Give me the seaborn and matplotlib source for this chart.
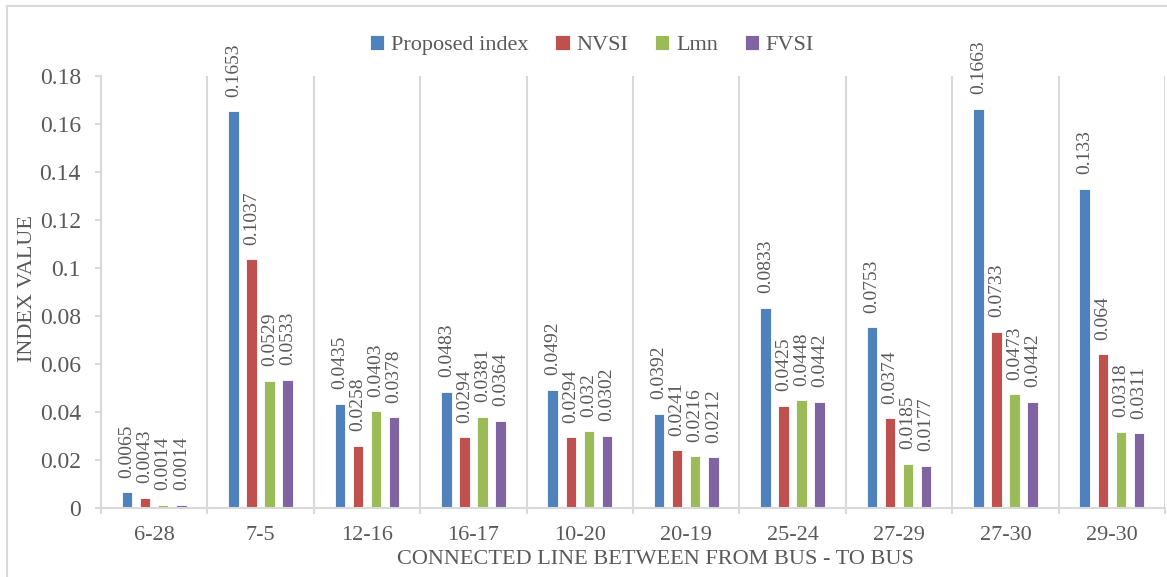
import matplotlib
matplotlib.use("Agg")
import matplotlib.pyplot as plt
from matplotlib.patches import Rectangle
from matplotlib.ticker import FixedLocator, FuncFormatter, MultipleLocator
import numpy as np
import pandas as pd
import seaborn as sns

# Line sections (from bus - to bus) and the four stability indices
lines = ["6-28", "7-5", "12-16", "16-17", "10-20", "20-19", "25-24", "27-29", "27-30", "29-30"]
proposed_index = [0.0065, 0.1653, 0.0435, 0.0483, 0.0492, 0.0392, 0.0833, 0.0753, 0.1663, 0.133]
nvsi = [0.0043, 0.1037, 0.0258, 0.0294, 0.0294, 0.0241, 0.0425, 0.0374, 0.0733, 0.064]
lmn = [0.0014, 0.0529, 0.0403, 0.0381, 0.032, 0.0216, 0.0448, 0.0185, 0.0473, 0.0318]
fvsi = [0.0014, 0.0533, 0.0378, 0.0364, 0.0302, 0.0212, 0.0442, 0.0177, 0.0442, 0.0311]
series_names = ["Proposed index", "NVSI", "Lmn", "FVSI"]
colors = ["#4F81BD", "#C0504D", "#9BBB59", "#8064A2"]

series_values = [proposed_index, nvsi, lmn, fvsi]
df = pd.DataFrame(
    [(ln, name, v) for name, vals in zip(series_names, series_values) for ln, v in zip(lines, vals)],
    columns=["line", "index", "value"],
)

sns.set_theme(style="white")
plt.rcParams["font.family"] = ["Liberation Serif", "DejaVu Serif"]
text_gray = "#595959"
grid_gray = "#D9D9D9"

fig = plt.figure(figsize=(11.67, 5.77), dpi=100)
ax = fig.add_axes([101 / 1167, 69 / 577, 1064 / 1167, 432 / 577])

sns.barplot(
    data=df, x="line", y="value", hue="index",
    order=lines, hue_order=series_names, palette=colors, saturation=1,
    width=0.68, gap=0.42, edgecolor="white", linewidth=0.6,
    ax=ax,
)

# Rotated value labels above every bar
for container, vals in zip(ax.containers, series_values):
    ax.bar_label(container, labels=[f"{v:g}" for v in vals], rotation=90,
                 padding=10.5, fontsize=14, color=text_gray)

ax.set_xlim(-0.5, len(lines) - 0.5)
ax.set_ylim(0, 0.18)
ax.yaxis.set_major_locator(MultipleLocator(0.02))
ax.yaxis.set_major_formatter(FuncFormatter(lambda v, _: f"{round(v, 2):g}"))

# Category separators as vertical gridlines
ax.xaxis.set_minor_locator(FixedLocator(np.arange(-0.5, len(lines), 1.0)))
ax.grid(axis="x", which="minor", color=grid_gray, linewidth=1.5)
ax.grid(axis="y", visible=False)
ax.grid(axis="x", which="major", visible=False)

ax.tick_params(axis="x", which="major", length=0, pad=13, labelsize=16, labelcolor=text_gray)
ax.tick_params(axis="x", which="minor", length=4.5, width=1.5, color=grid_gray, direction="out", bottom=True)
ax.tick_params(axis="y", which="major", length=4.5, width=1.5, color=grid_gray, direction="out",
               left=True, pad=10, labelsize=17, labelcolor=text_gray)

for side in ["top", "right"]:
    ax.spines[side].set_visible(False)
for side in ["left", "bottom"]:
    ax.spines[side].set_color(grid_gray)
    ax.spines[side].set_linewidth(1.5)

ax.set_xlabel("")
ax.set_ylabel("")
fig.text(28 / 1167, 1 - 289 / 577, "INDEX VALUE", rotation=90, ha="center", va="center",
         fontsize=16, color=text_gray)
fig.text(655 / 1167, 1 - 560 / 577, "CONNECTED LINE BETWEEN FROM BUS - TO BUS",
         ha="center", va="center", fontsize=16, color=text_gray)

handles, labels = ax.get_legend_handles_labels()
ax.legend_.remove()
fig.legend(handles, labels, loc="center", bbox_to_anchor=(592 / 1167, 1 - 45 / 577),
           ncol=4, frameon=False, fontsize=16, labelcolor=text_gray,
           handlelength=0.65, handleheight=0.65, handletextpad=0.3, columnspacing=1.2)

# Chart frame
fig.patches.append(Rectangle((7 / 1167, -0.05), 1.1, 1 - 6 / 577 + 0.05, transform=fig.transFigure,
                             fill=False, edgecolor=grid_gray, linewidth=1.5))

fig.savefig("out.png", dpi=100)
